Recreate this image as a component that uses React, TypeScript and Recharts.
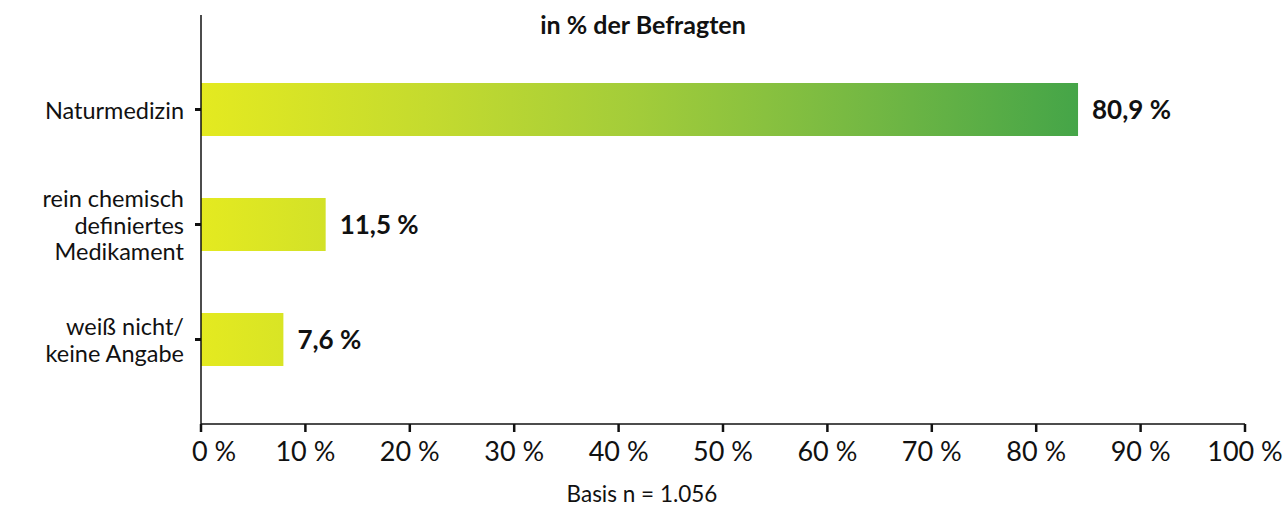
import { BarChart, Bar, XAxis, YAxis, LabelList } from "recharts"

// Werte aus der Grafik
const categories = ["Naturmedizin", "rein chemisch\ndefiniertes\nMedikament", "weiß nicht/\nkeine Angabe"]
const values = [80.9, 11.5, 7.6]
const xTicks = [0, 10, 20, 30, 40, 50, 60, 70, 80, 90, 100]

const data = categories.map((name, i) => ({ name, value: values[i] }))

const FONT = "Lato, 'DejaVu Sans', sans-serif"

const CategoryTick = (props: any) => {
  const { x, y, payload } = props
  const lines = String(payload.value).split("\n")
  const lh = 26.7
  const start = y - ((lines.length - 1) * lh) / 2
  return (
    <text x={x} y={start} textAnchor="end" fontFamily={FONT} fontSize={23.5} fill="#111">
      {lines.map((l, i) => (
        <tspan key={i} x={x} y={start + i * lh} dominantBaseline="central">
          {l}
        </tspan>
      ))}
    </text>
  )
}

const PercentTick = (props: any) => {
  const { x, y, payload } = props
  const shift = payload.value === 0 ? 13 : 0
  return (
    <text x={x + shift} y={y + 27} textAnchor="middle" fontFamily={FONT} fontSize={27} fill="#111">
      {`${payload.value} %`}
    </text>
  )
}

export default function App() {
  return (
    <div style={{ position: "absolute", left: 0, top: 0, width: 1288, height: 511, background: "#fff" }}>
      <div
        style={{
          position: "absolute",
          left: 0,
          width: 1288,
          top: 9,
          textAlign: "center",
          fontFamily: FONT,
          fontWeight: 700,
          fontSize: 25,
          color: "#111",
        }}
      >
        <span style={{ position: "relative", left: -1 }}>in % der Befragten</span>
      </div>
      <BarChart
        width={1288}
        height={511}
        data={data}
        layout="vertical"
        margin={{ top: 15, right: 43, bottom: 47, left: 0 }}
      >
        <defs>
          <linearGradient id="barGrad" gradientUnits="userSpaceOnUse" x1={201} y1={0} x2={1078} y2={0}>
            <stop offset="0%" stopColor="#e4ea20" />
            <stop offset="27%" stopColor="#c3da2f" />
            <stop offset="50%" stopColor="#a2cc3a" />
            <stop offset="76%" stopColor="#74b843" />
            <stop offset="100%" stopColor="#45a548" />
          </linearGradient>
        </defs>
        <XAxis type="number" xAxisId="bars" domain={[0, 96.3]} allowDataOverflow height={0} hide />
        <XAxis
          type="number"
          xAxisId="scale"
          domain={[0, 100]}
          allowDataOverflow
          ticks={xTicks}
          interval={0}
          height={40}
          axisLine={{ stroke: "#111", strokeWidth: 1.5 }}
          tickLine={{ stroke: "#111", strokeWidth: 2.5 }}
          tickSize={8}
          tick={<PercentTick />}
        />
        <YAxis
          type="category"
          dataKey="name"
          width={201}
          padding={{ top: 37, bottom: 27 }}
          axisLine={{ stroke: "#111", strokeWidth: 1.5 }}
          tickLine={{ stroke: "#111", strokeWidth: 3 }}
          tickSize={6}
          tickMargin={11}
          tick={<CategoryTick />}
          interval={0}
        />
        <Bar dataKey="value" xAxisId="bars" barSize={53} fill="url(#barGrad)" isAnimationActive={false}>
          <LabelList
            dataKey="value"
            position="right"
            offset={14}
            fill="#111"
            fontFamily={FONT}
            fontWeight={700}
            fontSize={26}
            formatter={(v: any) => `${String(v).replace(".", ",")} %`}
          />
        </Bar>
      </BarChart>
      <div
        style={{
          position: "absolute",
          left: 0,
          width: 1288,
          top: 480,
          textAlign: "center",
          fontFamily: FONT,
          fontSize: 22.5,
          color: "#111",
        }}
      >
        <span style={{ position: "relative", left: -2 }}>Basis n = 1.056</span>
      </div>
    </div>
  )
}
